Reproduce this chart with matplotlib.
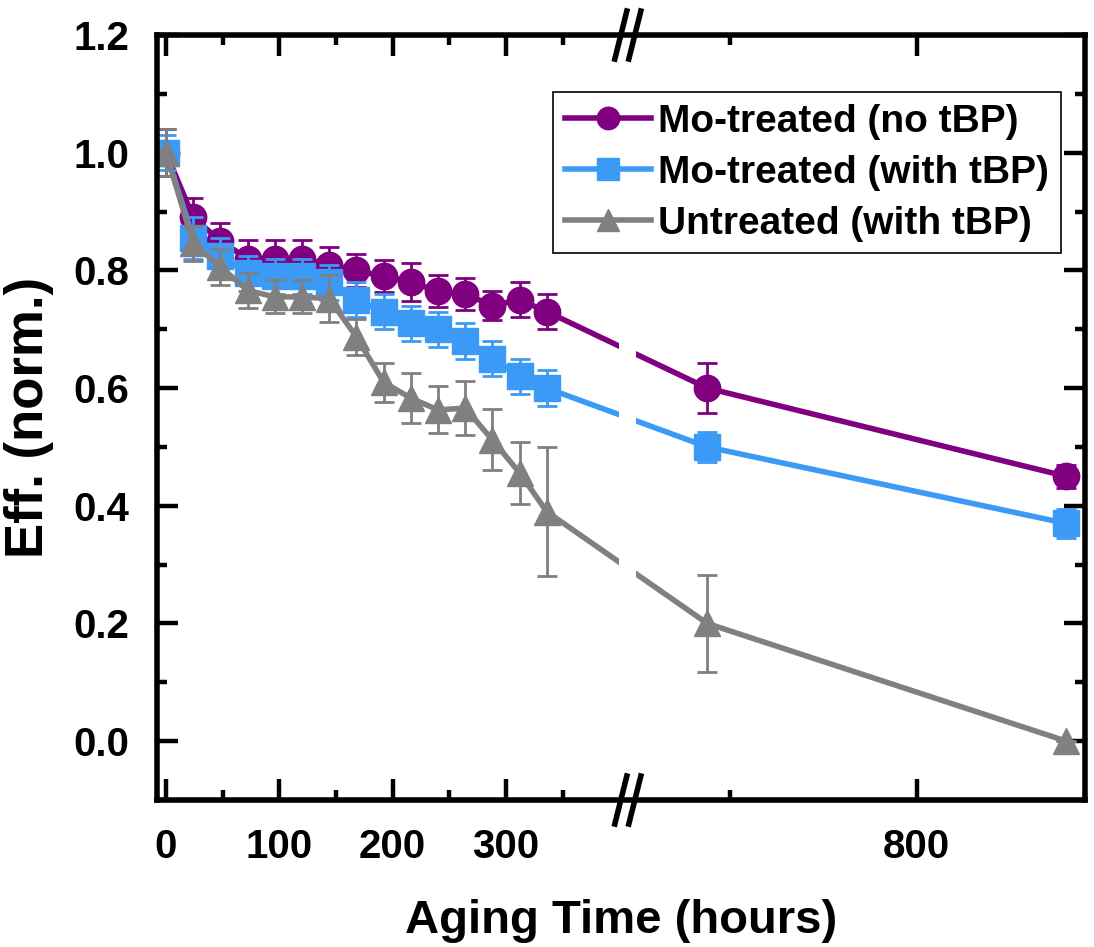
import numpy as np
import matplotlib
matplotlib.use("Agg")
import matplotlib.pyplot as plt
from matplotlib.lines import Line2D
from matplotlib.ticker import FixedLocator, MultipleLocator, FormatStrFormatter

plt.rcParams['font.family'] = ['Liberation Sans', 'DejaVu Sans']
plt.rcParams['font.weight'] = 'bold'

# aging data, one point per day up to 336 h plus two late points
hours = [0, 24, 48, 72, 96, 120, 144, 168, 192, 216, 240, 264, 288, 312, 336, 576, 960]

mo_no_tbp = [1.00, 0.89, 0.85, 0.82, 0.82, 0.82, 0.81, 0.80, 0.79, 0.78, 0.765, 0.76, 0.74, 0.75, 0.73, 0.60, 0.45]
mo_no_tbp_err = [0.04, 0.033, 0.03, 0.032, 0.032, 0.032, 0.03, 0.028, 0.027, 0.032, 0.027, 0.027, 0.025, 0.03, 0.03, 0.043, 0.02]

mo_tbp = [1.00, 0.855, 0.825, 0.795, 0.79, 0.79, 0.78, 0.75, 0.73, 0.71, 0.70, 0.68, 0.65, 0.62, 0.60, 0.50, 0.37]
mo_tbp_err = [0.03, 0.035, 0.03, 0.03, 0.03, 0.03, 0.03, 0.03, 0.03, 0.03, 0.03, 0.03, 0.03, 0.03, 0.03, 0.026, 0.025]

untreated = [1.00, 0.846, 0.806, 0.766, 0.755, 0.755, 0.752, 0.687, 0.61, 0.583, 0.563, 0.566, 0.512, 0.456, 0.39, 0.20, 0.00]
untreated_err = [0.04, 0.03, 0.03, 0.03, 0.028, 0.028, 0.04, 0.03, 0.033, 0.042, 0.04, 0.046, 0.052, 0.053, 0.11, 0.083, 0.0]

labels = ['Mo-treated (no tBP)', 'Mo-treated (with tBP)', 'Untreated (with tBP)']
colors = ['#800080', '#3A9AF5', '#808080']
markers = ['o', 's', '^']

x_major = [0, 100, 200, 300, 800]
x_minor = [50, 150, 250, 350, 600]

# broken x axis: 0-400 h at full scale, 500-980 h compressed
BRK_LO, BRK_HI = 400, 500
GAP = 15.0
K = 0.825


def fwd(x):
    x = np.asarray(x, dtype=float)
    mid = BRK_LO + (x - BRK_LO) * GAP / (BRK_HI - BRK_LO)
    hi = BRK_LO + GAP + (x - BRK_HI) * K
    return np.where(x <= BRK_LO, x, np.where(x >= BRK_HI, hi, mid))


def inv(y):
    y = np.asarray(y, dtype=float)
    mid = BRK_LO + (y - BRK_LO) * (BRK_HI - BRK_LO) / GAP
    hi = BRK_HI + (y - BRK_LO - GAP) / K
    return np.where(y <= BRK_LO, y, np.where(y >= BRK_LO + GAP, hi, mid))


fig = plt.figure(figsize=(10.94, 9.47), dpi=100)
ax = fig.add_axes([0.1435, 0.1552, 0.8483, 0.8078])
ax.set_xscale('function', functions=(fwd, inv))

series = [(mo_no_tbp, mo_no_tbp_err), (mo_tbp, mo_tbp_err), (untreated, untreated_err)]
handles = []
for i, ((vals, errs), c, m, lab) in enumerate(zip(series, colors, markers, labels)):
    z = 3 + i
    ax.errorbar(hours, vals, yerr=errs, fmt='none', ecolor=c, elinewidth=2,
                capsize=7, capthick=2, zorder=z)
    ln, = ax.plot(hours, vals, color=c, marker=m, markersize=19, lw=4,
                  label=lab, zorder=z)
    handles.append(ln)

ax.set_xlim(-8, 980)
ax.set_ylim(-0.1, 1.2)

# blank out the data lines across the break
ax.axvspan(BRK_LO, BRK_HI, color='white', lw=0, zorder=9)

ax.xaxis.set_major_locator(FixedLocator(x_major))
ax.xaxis.set_minor_locator(FixedLocator(x_minor))
ax.xaxis.set_major_formatter(FormatStrFormatter('%d'))
ax.yaxis.set_major_locator(MultipleLocator(0.2))
ax.yaxis.set_minor_locator(MultipleLocator(0.1))
ax.yaxis.set_major_formatter(FormatStrFormatter('%.1f'))

ax.tick_params(which='both', direction='in', top=True, right=True, width=3.2,
               labelsize=29, pad=20)
ax.tick_params(which='major', length=15)
ax.tick_params(which='minor', length=7)
for sp in ax.spines.values():
    sp.set_linewidth(4)
    sp.set_zorder(10)
ax.set_axisbelow(False)

ax.set_xlabel('Aging Time (hours)', fontsize=34, fontweight='bold', labelpad=24)
ax.set_ylabel('Eff. (norm.)', fontsize=38, fontweight='bold', labelpad=14)

leg = ax.legend(handles=handles, loc='upper right', bbox_to_anchor=(0.974, 0.925),
                borderaxespad=0, fontsize=28, frameon=True, fancybox=False,
                edgecolor='black', framealpha=1, handlelength=2.2,
                handletextpad=0.2, labelspacing=0.38, borderpad=0.3,
                markerscale=0.85)
leg.get_frame().set_linewidth(1.2)
leg.set_zorder(12)

# "//" break marks on the top and bottom spines
xc = ax.transData.transform((0.5 * (BRK_LO + BRK_HI), 0))[0]
to_fig = fig.transFigure.inverted()
for y_ax in (0.0, 1.0):
    yc = ax.transAxes.transform((0, y_ax))[1]
    for dx in (-7, 7):
        pts = np.array([[xc + dx - 6, yc - 24], [xc + dx + 6, yc + 24]])
        pts = to_fig.transform(pts)
        fig.add_artist(Line2D(pts[:, 0], pts[:, 1], color='black', lw=4,
                              transform=fig.transFigure, zorder=20))

fig.savefig('out.png', dpi=100)
